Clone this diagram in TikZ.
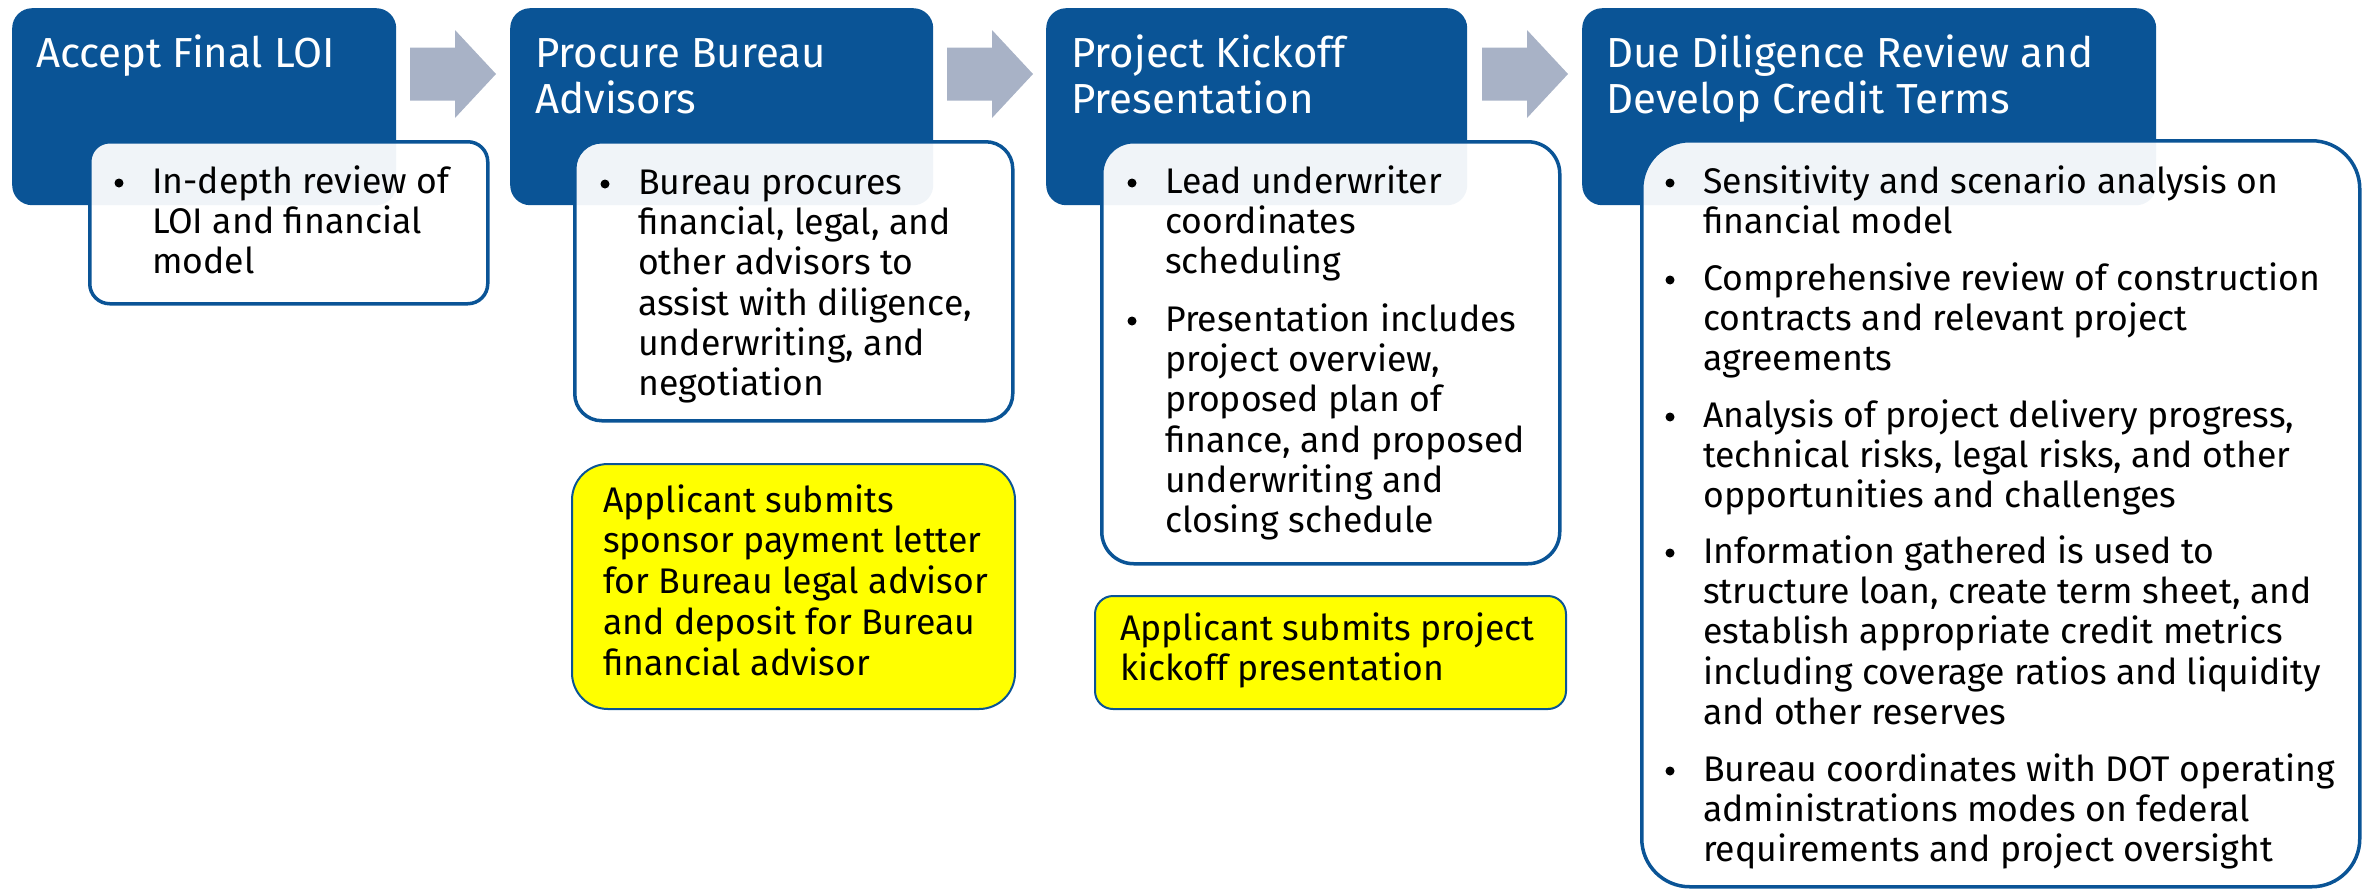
\documentclass[tikz,border=0pt]{standalone}
\usepackage{fontspec}
\setmainfont{Fira Sans}
\definecolor{dblue}{HTML}{0A5496}
\definecolor{agray}{HTML}{A8B2C6}
\definecolor{ylw}{HTML}{FFFF00}
\newcommand{\bodystrut}{\rule{0pt}{30pt}}
\newcommand{\titlestrut}{\rule{0pt}{36pt}}
\begin{document}
\begin{tikzpicture}[x=1pt,y=-1pt,
  stage/.style={fill=dblue, rounded corners=20pt, anchor=north west, inner sep=0pt},
  detail/.style={fill=white, fill opacity=0.94, draw=dblue, draw opacity=1, line width=3.5pt, anchor=north west, inner sep=0pt},
  note/.style={fill=ylw, draw=dblue, line width=2pt, anchor=north west, inner sep=0pt},
  flow/.style={fill=agray},
  ttl/.style={anchor=north west, inner sep=0pt, text=white, align=left, font=\fontsize{42}{46}\selectfont},
  body/.style={anchor=north west, inner sep=0pt, align=left, font=\fontsize{35.6}{40.3}\selectfont},
  ybody/.style={anchor=north west, inner sep=0pt, align=left, font=\fontsize{35.6}{40.7}\selectfont},
  bdot/.style={circle, fill=black, inner sep=0pt, minimum size=9pt}]
\path[use as bounding box] (0,0) rectangle (2366,892);

% stage boxes
\node[stage, minimum width=384pt, minimum height=197pt] (s1) at (12,8) {};
\node[stage, minimum width=423pt, minimum height=197pt] (s2) at (510,8) {};
\node[stage, minimum width=421pt, minimum height=197pt] (s3) at (1046,8) {};
\node[stage, minimum width=574pt, minimum height=197pt] (s4) at (1582,8) {};

% detail boxes
\node[detail, rounded corners=20pt, minimum width=398pt, minimum height=162pt] (d1) at (88,140) {};
\node[detail, rounded corners=27pt, minimum width=438pt, minimum height=279pt] (d2) at (573,140) {};
\node[detail, rounded corners=32pt, minimum width=458pt, minimum height=422pt] (d3) at (1100,140) {};
\node[detail, rounded corners=48pt, minimum width=718pt, minimum height=746pt] (d4) at (1640,139) {};

% notes
\node[note, rounded corners=36pt, minimum width=443pt, minimum height=245pt] (n2) at (571,463) {};
\node[note, rounded corners=18pt, minimum width=471pt, minimum height=113pt] (n3) at (1094,595) {};

% flow arrows
\coordinate (a1) at (410,74);
\coordinate (a2) at (947,74);
\coordinate (a3) at (1482,74);
\foreach \a in {a1,a2,a3}{
  \fill[flow] (\a) ++(0,-26.5) -- ++(45,0) -- ++(0,-17.5) -- ++(41,44) -- ++(-41,44) -- ++(0,-17.5) -- ++(-45,0) -- cycle;
}

% titles
\node[ttl] (t1) at (36,31) {\titlestrut Accept Final LOI};
\node[ttl] (t2) at (535,31) {\titlestrut Procure Bureau\\Advisors};
\node[ttl] (t3) at (1071,31) {\titlestrut Project Kickoff\\Presentation};
\node[ttl] (t4) at (1606,31) {\titlestrut Due Diligence Review and\\Develop Credit Terms};

% box 1
\node[bdot] (b11) at (119,183) {};
\node[body] (x11) at (152,163) {\bodystrut In-depth review of\\LOI and financial\\model};

% box 2
\node[bdot] (b21) at (605,184) {};
\node[body] (x21) at (638,164) {\bodystrut Bureau procures\\financial, legal, and\\other advisors to\\assist with diligence,\\underwriting, and\\negotiation};
\node[ybody] (y21) at (603,482) {\bodystrut Applicant submits\\sponsor payment letter\\for Bureau legal advisor\\and deposit for Bureau\\financial advisor};

% box 3
\node[bdot] (b31) at (1132,183) {};
\node[body] (x31) at (1165,163) {\bodystrut Lead underwriter\\coordinates\\scheduling};
\node[bdot] (b32) at (1132,321) {};
\node[body] (x32) at (1165,301) {\bodystrut Presentation includes\\project overview,\\proposed plan of\\finance, and proposed\\underwriting and\\closing schedule};
\node[ybody] (y31) at (1120,610) {\bodystrut Applicant submits project\\kickoff presentation};

% box 4
\node[bdot] (b41) at (1670,183) {};
\node[body] (x41) at (1703,163) {\bodystrut Sensitivity and scenario analysis on\\financial model};
\node[bdot] (b42) at (1670,280) {};
\node[body] (x42) at (1703,260) {\bodystrut Comprehensive review of construction\\contracts and relevant project\\agreements};
\node[bdot] (b43) at (1670,417) {};
\node[body] (x43) at (1703,397) {\bodystrut Analysis of project delivery progress,\\technical risks, legal risks, and other\\opportunities and challenges};
\node[bdot] (b44) at (1670,553) {};
\node[body] (x44) at (1703,533) {\bodystrut Information gathered is used to\\structure loan, create term sheet, and\\establish appropriate credit metrics\\including coverage ratios and liquidity\\and other reserves};
\node[bdot] (b45) at (1670,771) {};
\node[body] (x45) at (1703,751) {\bodystrut Bureau coordinates with DOT operating\\administrations modes on federal\\requirements and project oversight};
\end{tikzpicture}
\end{document}
